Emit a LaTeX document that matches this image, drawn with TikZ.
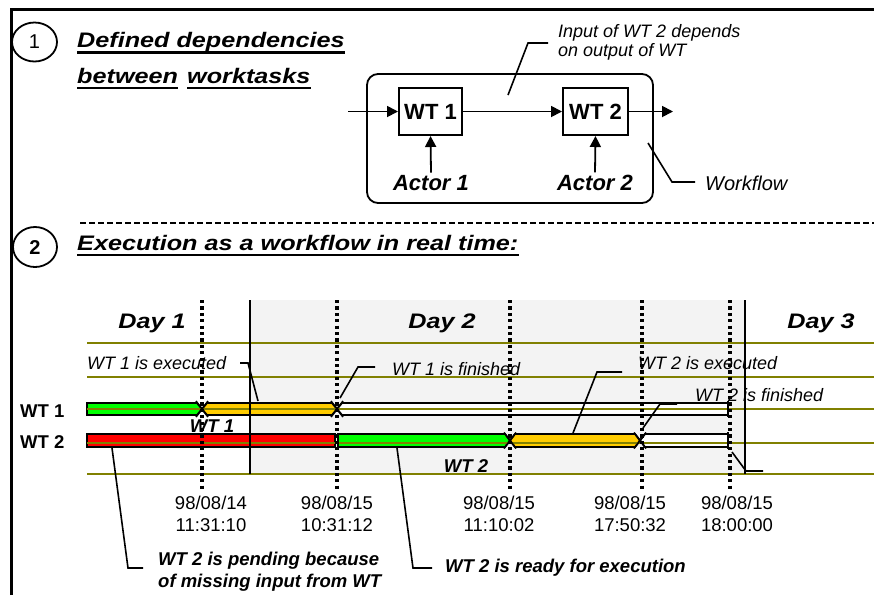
\documentclass[tikz,border=0pt]{standalone}
\usepackage{fontspec}
\setmainfont{Liberation Sans}
\newfontfamily\widesans[FakeStretch=1.2]{Liberation Sans}
\usetikzlibrary{arrows.meta,calc}

\definecolor{barGreen}{RGB}{0,255,0}
\definecolor{barAmber}{RGB}{255,204,0}
\definecolor{barRed}{RGB}{255,0,0}
\definecolor{gridOlive}{RGB}{128,128,0}
\definecolor{dayShade}{RGB}{243,243,243}

\newcommand{\fs}[1]{\fontsize{#1}{#1}\selectfont}

\tikzset{
  heading/.style={inner sep=0, anchor=base west, font=\widesans\fs{21}\bfseries\itshape},
  daylabel/.style={inner sep=0, anchor=base, font=\widesans\fs{21}\bfseries\itshape},
  note/.style={inner sep=0, anchor=base west, font=\fs{18}\itshape},
  boldnote/.style={inner sep=0, anchor=base west, font=\fs{18.5}\bfseries\itshape},
  rowlabel/.style={inner sep=0, anchor=base west, font=\fs{18.5}\bfseries},
  datelabel/.style={inner sep=0, anchor=base, font=\fs{18.5}},
  taskbox/.style={draw, line width=2pt, minimum height=47pt, inner sep=0, font=\fs{22}\bfseries},
  actor/.style={inner sep=2pt, anchor=base, font=\fs{22}\bfseries\itshape},
  arr/.style={line width=1.8pt, -{Triangle[length=11pt,width=11pt]}},
  leader/.style={line width=1.6pt},
  uline/.style={line width=2.2pt},
  bar/.style={draw=black, line width=1.8pt},
  xmark/.style={line width=1.6pt},
  gridline/.style={draw=gridOlive, line width=1.8pt},
  timeline/.style={line width=3.2pt, dash pattern=on 3.2pt off 3.2pt}
}

\begin{document}
\begin{tikzpicture}[x=1pt, y=-1pt]
\useasboundingbox (0,0) rectangle (874,595);

% frame
\draw[line width=3.5pt] (11.5,595) -- (11.5,9.5) -- (874,9.5);

% ---------- part 1 ----------
\draw[line width=1.8pt] (34.5,42) ellipse [x radius=22.5, y radius=19.5];
\node[inner sep=0, font=\fs{20}] (n1) at (34.5,42) {1};

\node[heading] (hdA) at (77,47) {Defined dependencies};
\draw[uline] ($(hdA.base west)+(0,5.5)$) -- ($(hdA.base east)+(0,5.5)$);
\node[heading] (hdB) at (77,83) {between};
\draw[uline] ($(hdB.base west)+(0,5)$) -- ($(hdB.base east)+(0,5)$);
\node[heading] (hdC) at (187,83) {worktasks};
\draw[uline] ($(hdC.base west)+(0,5)$) -- ($(hdC.base east)+(0,5)$);

% workflow frame
\draw[line width=1.8pt, rounded corners=11pt] (367,74) rectangle (653,203);

\node[taskbox, minimum width=63pt] (wt1) at (430.5,111.5) {WT 1};
\node[taskbox, minimum width=65pt] (wt2) at (595.5,111.5) {WT 2};
\coordinate (flowin) at (348,111.5);
\coordinate (flowout) at (673,111.5);
\draw[arr] (flowin) -- (wt1.west);
\draw[arr] (wt1.east) -- (wt2.west);
\draw[arr] (wt2.east) -- (flowout);

\node[actor] (act1) at (431,190) {Actor 1};
\node[actor] (act2) at (595,190) {Actor 2};
\draw[arr] (act1.north) -- (wt1.south);
\draw[arr] (act2.north) -- (wt2.south);

\node[note] (inA) at (558,37) {Input of WT 2 depends};
\node[note] (inB) at (558,56) {on output of WT};
\coordinate (inTip) at (508,95);
\draw[leader] (548,43) -- (528,43) -- (inTip);

\node[note, font=\fs{20}\itshape] (wf) at (705,190) {Workflow};
\coordinate (wfTip) at (648,143);
\draw[leader] (wfTip) -- (672,182) -- (695,182);

% separator
\draw[line width=2.4pt, dash pattern=on 6pt off 3pt] (80,223) -- (874,223);

% ---------- part 2 ----------
\draw[line width=1.8pt] (35,247) ellipse [x radius=22, y radius=20];
\node[inner sep=0, font=\fs{20}\bfseries] (n2) at (35,248) {2};

\node[heading] (hdD) at (77,250) {Execution as a workflow in real time:};
\draw[uline] ($(hdD.base west)+(0,5)$) -- ($(hdD.base east)+(0,5)$);

% shaded day
\fill[dayShade] (250,300) rectangle (745,474);

\node[daylabel] (d1) at (152,328) {Day 1};
\node[daylabel] (d2) at (442,328) {Day 2};
\node[daylabel] (d3) at (821,328) {Day 3};

% bar of WT 1
\draw[bar, fill=barGreen] (87,403) -- (197,403) -- (202,409) -- (197,415) -- (87,415) -- cycle;
\draw[bar, fill=barAmber] (202,409) -- (207,403) -- (332,403) -- (337,409) -- (332,415) -- (207,415) -- cycle;
\draw[bar, fill=white] (337,409) -- (342,403) -- (728,403) -- (728,415) -- (342,415) -- cycle;

% bar of WT 2
\draw[bar, fill=barRed] (87,434) rectangle (335,447);
\draw[bar, fill=barGreen] (338,434) -- (505,434) -- (510,440.5) -- (505,447) -- (338,447) -- cycle;
\draw[bar, fill=barAmber] (510,440.5) -- (515,434) -- (635,434) -- (640,440.5) -- (635,447) -- (515,447) -- cycle;
\draw[bar, fill=white] (640,440.5) -- (645,434) -- (728,434) -- (728,447) -- (645,447) -- cycle;

% grid lines
\foreach \gy in {343,377,409,443,474}
  \draw[gridline] (87,\gy) -- (874,\gy);

% day borders
\draw[line width=1.8pt] (250,300) -- (250,474);
\draw[line width=1.8pt] (745,300) -- (745,474);

% time marks
\foreach \tx in {202,337,510,642,730}
  \draw[timeline] (\tx,300) -- (\tx,490);

% state changes
\foreach \cx/\cy in {202/409,337/409,510/440.5,640/440.5}
  \draw[xmark] (\cx-6,\cy-8) -- (\cx+6,\cy+8) (\cx-6,\cy+8) -- (\cx+6,\cy-8);
\draw[line width=2.6pt] (728,401) -- (728,417);
\draw[line width=2.6pt] (728,432) -- (728,449);

% row labels
\node[rowlabel] (r1) at (20,417) {WT 1};
\node[rowlabel] (r2) at (20,448) {WT 2};
\node[boldnote, anchor=base] (b1) at (212,432) {WT 1};
\node[boldnote, anchor=base] (b2) at (466,472) {WT 2};

% notes with leaders
\node[note] (e1) at (87,369) {WT 1 is executed};
\draw[leader] (240,363) -- (248,363) -- (258,401);
\node[note] (f1) at (392,375) {WT 1 is finished};
\draw[leader] (375,367) -- (358,367) -- (340,398);
\node[note] (e2) at (638,369) {WT 2 is executed};
\draw[leader] (622,372) -- (597,372) -- (573,433);
\node[note] (f2) at (695,401) {WT 2 is finished};
\draw[leader] (677,404) -- (660,404) -- (643,428);
\draw[leader] (732,452) -- (746,471) -- (763,471);

% dates
\node[datelabel] (t1a) at (211,509) {98/08/14};
\node[datelabel] (t1b) at (211,531) {11:31:10};
\node[datelabel] (t2a) at (337,509) {98/08/15};
\node[datelabel] (t2b) at (337,531) {10:31:12};
\node[datelabel] (t3a) at (499,509) {98/08/15};
\node[datelabel] (t3b) at (499,531) {11:10:02};
\node[datelabel] (t4a) at (630,509) {98/08/15};
\node[datelabel] (t4b) at (630,531) {17:50:32};
\node[datelabel] (t5a) at (737,509) {98/08/15};
\node[datelabel] (t5b) at (737,531) {18:00:00};

% bottom notes
\node[boldnote] (p1) at (158,565) {WT 2 is pending because};
\node[boldnote] (p2) at (158,587) {of missing input from WT};
\draw[leader] (112,448) -- (128,568) -- (143,568);
\node[boldnote] (rd) at (445,572) {WT 2 is ready for execution};
\draw[leader] (397,448) -- (413,568) -- (432,568);

\end{tikzpicture}
\end{document}
